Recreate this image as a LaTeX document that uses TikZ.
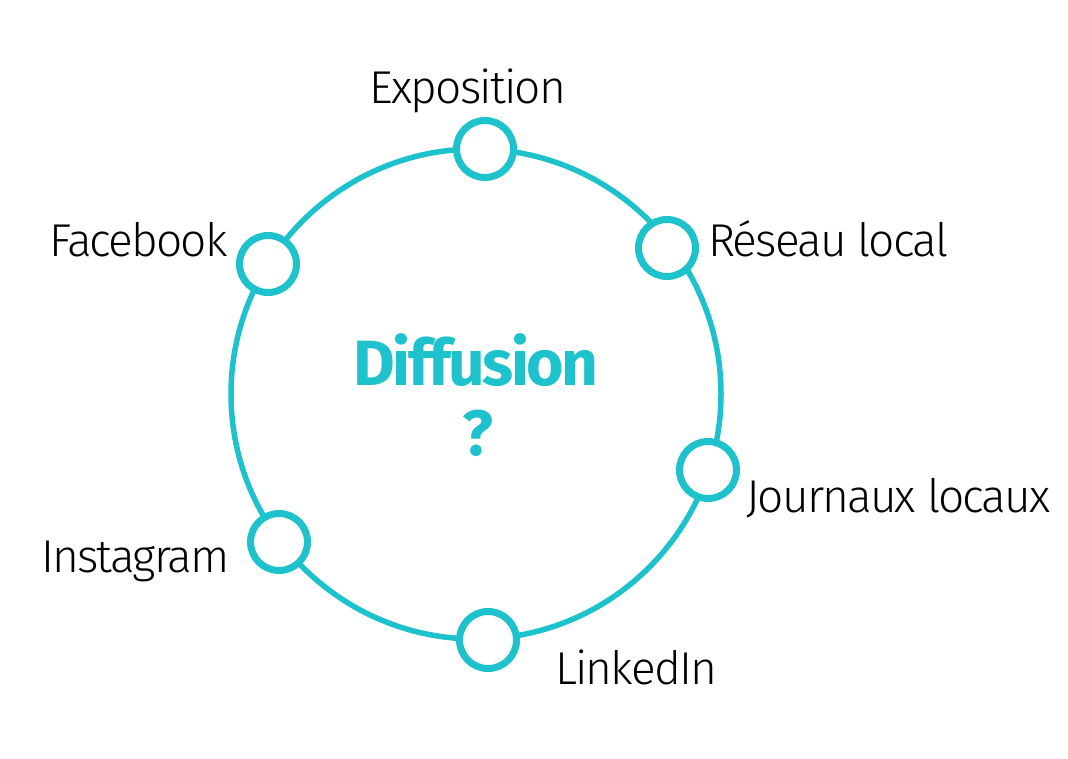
\documentclass[tikz,border=0pt]{standalone}
\usepackage{fontspec}
\setmainfont{Fira Sans}[UprightFont=* Light, BoldFont=* Bold, LetterSpace=-4]
\definecolor{teal1}{RGB}{30,194,204}
\begin{document}
\begin{tikzpicture}[x=1pt,y=-1pt,
  ring/.style={circle,draw=teal1,line width=7pt,fill=white,minimum size=57pt,inner sep=0pt},
  lbl/.style={font=\fontsize{46}{50}\selectfont,text=black,inner sep=0pt},
  title/.style={font=\fontsize{64}{70}\selectfont\bfseries,text=teal1,inner sep=0pt}]
\useasboundingbox (0,0) rectangle (1068,758);
\fill[white] (0,0) rectangle (1068,758);
\node[circle,draw=teal1,line width=5.5pt,minimum size=490pt,inner sep=0pt] (main) at (476,394) {};
\node[ring] (expo) at (485,149) {};
\node[ring] (reseau) at (667,248) {};
\node[ring] (journ) at (708,470) {};
\node[ring] (linked) at (488,640) {};
\node[ring] (insta) at (279,542) {};
\node[ring] (fb) at (268,264) {};
\node[lbl,anchor=base] (texpo) at (468,103) {Exposition};
\node[lbl,anchor=base west] (treseau) at (708,256) {Réseau local};
\node[lbl,anchor=base west] (tjourn) at (746,512) {Journaux locaux};
\node[lbl,anchor=base west] (tlinked) at (555,684) {LinkedIn};
\node[lbl,anchor=base east] (tinsta) at (230,572) {Instagram};
\node[lbl,anchor=base east] (tfb) at (228,256) {Facebook};
\node[title,anchor=base] (diff) at (476,385) {Diffusion};
\node[title,anchor=base] (q) at (478,455) {?};
\end{tikzpicture}
\end{document}
